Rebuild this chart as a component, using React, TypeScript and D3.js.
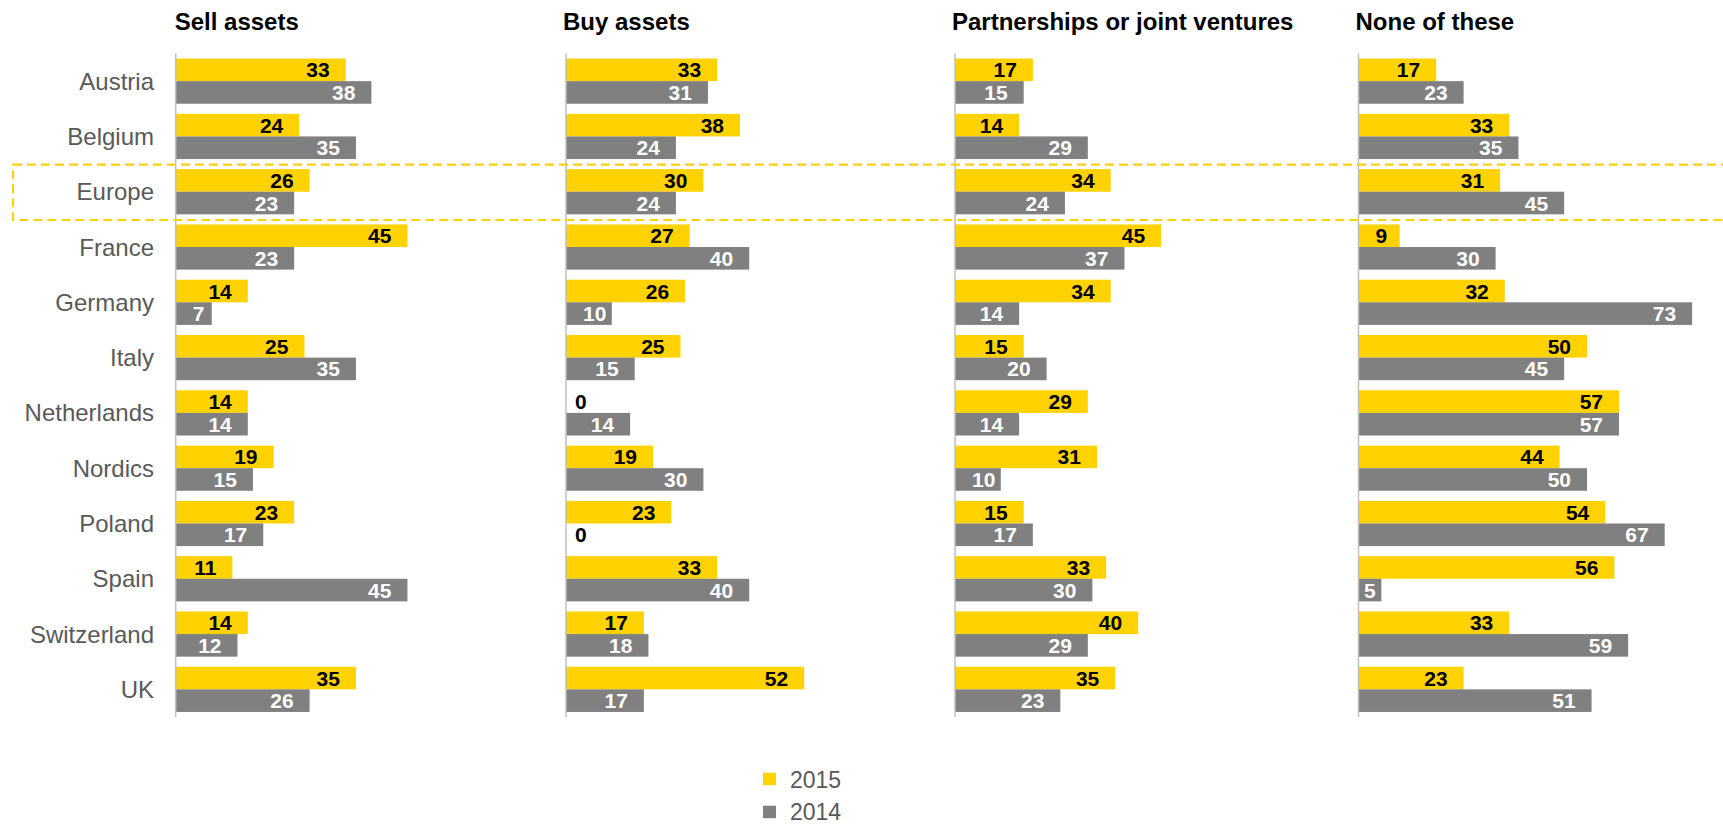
import React from 'react';
import * as d3 from 'd3';

const categories = ['Austria', 'Belgium', 'Europe', 'France', 'Germany', 'Italy', 'Netherlands', 'Nordics', 'Poland', 'Spain', 'Switzerland', 'UK'];
const panelTitles = ['Sell assets', 'Buy assets', 'Partnerships or joint ventures', 'None of these'];
const seriesNames = ['2015', '2014'];

const sell2015 = [33, 24, 26, 45, 14, 25, 14, 19, 23, 11, 14, 35];
const sell2014 = [38, 35, 23, 23, 7, 35, 14, 15, 17, 45, 12, 26];
const buy2015 = [33, 38, 30, 27, 26, 25, 0, 19, 23, 33, 17, 52];
const buy2014 = [31, 24, 24, 40, 10, 15, 14, 30, 0, 40, 18, 17];
const partner2015 = [17, 14, 34, 45, 34, 15, 29, 31, 15, 33, 40, 35];
const partner2014 = [15, 29, 24, 37, 14, 20, 14, 10, 17, 30, 29, 23];
const none2015 = [17, 33, 31, 9, 32, 50, 57, 44, 54, 56, 33, 23];
const none2014 = [23, 35, 45, 30, 73, 45, 57, 50, 67, 5, 59, 51];

const highlight = 'Europe';

const W = 1723;
const H = 825;
const FONT = '"Liberation Sans", Arial, sans-serif';
const YELLOW = '#FFD200';
const GREY = '#808080';
const TEXT_GREY = '#595959';

// layout of each small chart: axis x position and pixels per percentage point
const panelX = [175.7, 566, 955, 1358.5];
const panelUnit = [5.15, 4.58, 4.58, 4.57];

const panels = [
  [sell2015, sell2014],
  [buy2015, buy2014],
  [partner2015, partner2014],
  [none2015, none2014],
];

const plotTop = 53.5;
const plotBottom = 717;

const y = d3.scaleBand<string>().domain(categories).range([plotTop, plotBottom]).paddingInner(0).paddingOuter(0);
const barH = 22.6;
const digitW = 11.7;

// where the value label sits: inside the bar end, or pushed off the axis when the bar is short
function labelPos(v: number, barW: number, x0: number) {
  const tw = String(v).length * digitW;
  const end = x0 + barW;
  if (barW >= tw + 30) return { x: end - 16, anchor: 'end' };
  if (v === 0) return { x: x0 + 9, anchor: 'start' };
  if (barW < tw + 16) return { x: x0 + barW / 2, anchor: 'middle' };
  return { x: x0 + 17, anchor: 'start' };
}

export default function App() {
  return (
    <svg width={W} height={H} style={{ position: 'absolute', left: 0, top: 0, background: '#fff' }} fontFamily={FONT}>
      {/* category labels */}
      {categories.map((c) => (
        <text key={c} x={154} y={y(c)! + y.bandwidth() / 2 + 8.6} textAnchor="end" fontSize={24} fill={TEXT_GREY}>
          {c}
        </text>
      ))}

      {panels.map((series, p) => {
        const x0 = panelX[p];
        const x = d3.scaleLinear().domain([0, 100]).range([x0, x0 + 100 * panelUnit[p]]);
        return (
          <g key={p}>
            <text x={x0 - (p === 0 ? 1 : 3)} y={30} fontSize={24} fontWeight="bold" fill="#000">
              {panelTitles[p]}
            </text>
            {categories.map((c, i) => {
              const top = y(c)! + (y.bandwidth() - 2 * barH) / 2;
              return (
                <g key={c}>
                  {series.map((vals, s) => {
                    const v = vals[i];
                    const bw = x(v) - x(0);
                    const by = top + s * barH;
                    const lp = labelPos(v, bw, x(0));
                    return (
                      <g key={s}>
                        <rect x={x(0)} y={by} width={bw} height={barH} fill={s === 0 ? YELLOW : GREY} />
                        <text
                          x={lp.x}
                          y={by + barH / 2 + 7.5}
                          textAnchor={lp.anchor as any}
                          fontSize={21}
                          fontWeight="bold"
                          fill={s === 0 || v === 0 ? '#000' : '#fff'}
                        >
                          {v}
                        </text>
                      </g>
                    );
                  })}
                </g>
              );
            })}
            <line x1={x0} x2={x0} y1={plotTop} y2={plotBottom} stroke="#BFBFBF" strokeWidth={1.5} />
          </g>
        );
      })}

      {/* highlighted Europe row */}
      <rect
        x={13}
        y={y(highlight)! + 0.6}
        width={W}
        height={y.bandwidth()}
        fill="none"
        stroke={YELLOW}
        strokeWidth={2.2}
        strokeDasharray="9,5"
      />

      {/* legend */}
      {seriesNames.map((n, i) => (
        <g key={n}>
          <rect x={763} y={772.7 + i * 33} width={13} height={12.5} fill={i === 0 ? YELLOW : GREY} />
          <text x={790} y={788 + i * 31.5} fontSize={23} fill={TEXT_GREY}>
            {n}
          </text>
        </g>
      ))}
    </svg>
  );
}
